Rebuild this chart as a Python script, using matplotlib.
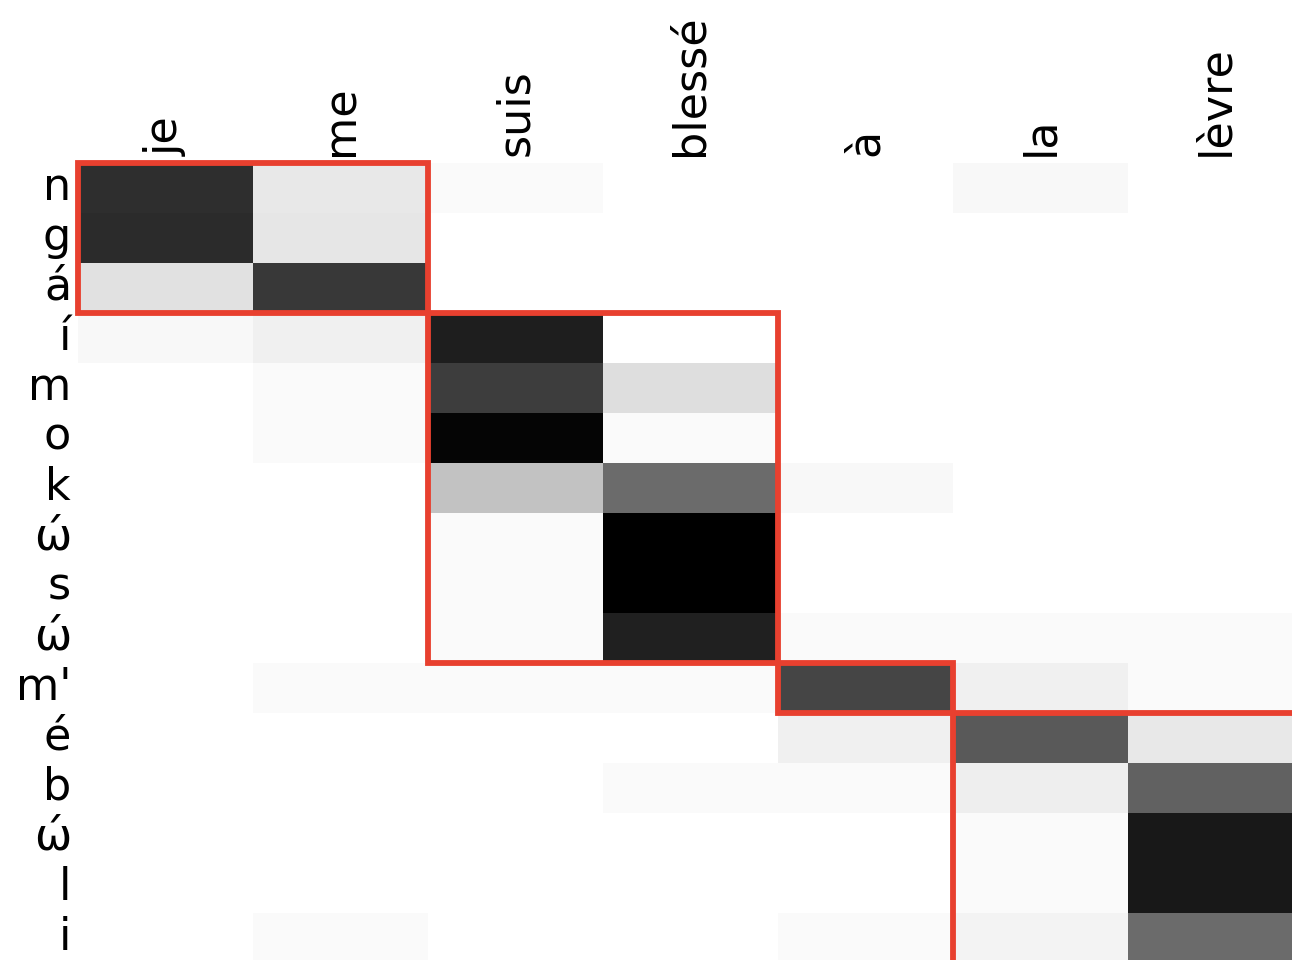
import numpy as np
import matplotlib.pyplot as plt
import matplotlib.transforms as mtransforms
from matplotlib.patches import Rectangle

# target words (columns) and source characters (rows)
words = ['je', 'me', 'suis', 'blessé', 'à', 'la', 'lèvre']
chars = ['n', 'g', 'á', 'í', 'm', 'o', 'k', 'ώ', 's', 'ώ', "m'", 'é', 'b', 'ώ', 'l', 'i']

# alignment weights, one row per character
weights = np.array([
    [0.82, 0.09, 0.02, 0.00, 0.00, 0.03, 0.00],
    [0.83, 0.10, 0.00, 0.00, 0.00, 0.00, 0.00],
    [0.12, 0.78, 0.00, 0.00, 0.00, 0.00, 0.00],
    [0.03, 0.06, 0.88, 0.00, 0.00, 0.00, 0.00],
    [0.00, 0.02, 0.76, 0.13, 0.00, 0.00, 0.00],
    [0.00, 0.02, 0.98, 0.02, 0.00, 0.00, 0.00],
    [0.00, 0.00, 0.24, 0.58, 0.03, 0.00, 0.00],
    [0.00, 0.00, 0.02, 1.00, 0.00, 0.00, 0.00],
    [0.00, 0.00, 0.02, 1.00, 0.00, 0.00, 0.00],
    [0.00, 0.00, 0.02, 0.87, 0.02, 0.02, 0.02],
    [0.00, 0.02, 0.02, 0.02, 0.73, 0.06, 0.02],
    [0.00, 0.00, 0.00, 0.00, 0.06, 0.65, 0.09],
    [0.00, 0.00, 0.00, 0.02, 0.02, 0.07, 0.62],
    [0.00, 0.00, 0.00, 0.00, 0.00, 0.02, 0.90],
    [0.00, 0.00, 0.00, 0.00, 0.00, 0.02, 0.90],
    [0.00, 0.02, 0.00, 0.00, 0.02, 0.05, 0.58],
])

# segments: (first row, last row, first col, last col)
segments = [(0, 2, 0, 1), (3, 9, 2, 3), (10, 10, 4, 4), (11, 15, 5, 6)]

fig = plt.figure(figsize=(12.92, 9.6), dpi=100)
ax = fig.add_axes([78 / 1292, -3 / 960, 1225 / 1292, 800 / 960])

ax.imshow(weights, cmap='gray_r', vmin=0, vmax=1, aspect='auto', interpolation='nearest')

for r0, r1, c0, c1 in segments:
    ax.add_patch(Rectangle((c0 - 0.5, r0 - 0.5), c1 - c0 + 1, r1 - r0 + 1,
                           fill=False, edgecolor='#e8402f', linewidth=4.2, clip_on=False))

ax.xaxis.tick_top()
ax.set_xticks(range(len(words)))
ax.set_xticklabels(words, rotation=90, fontsize=32)
ax.set_yticks(range(len(chars)))
ax.set_yticklabels(chars, fontsize=32)
ax.tick_params(length=0, pad=5)
for s in ax.spines.values():
    s.set_visible(False)

# nudge the row labels up a little so the last one stays inside the picture
shift = mtransforms.ScaledTranslation(0, 5 / 100, fig.dpi_scale_trans)
for lab in ax.get_yticklabels():
    lab.set_transform(lab.get_transform() + shift)

fig.savefig('out.png', dpi=100)
